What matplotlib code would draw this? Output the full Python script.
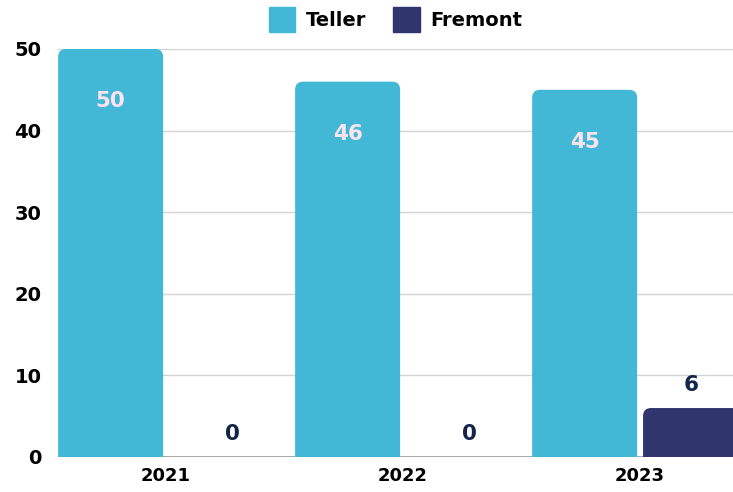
import numpy as np
import matplotlib.pyplot as plt
from matplotlib.path import Path
from matplotlib.patches import PathPatch, Patch

years = ['2021', '2022', '2023']
teller = [50, 46, 45]
fremont = [0, 0, 6]

TELLER_COL = '#42b8d6'
FREMONT_COL = '#31356e'

plt.rcParams['font.family'] = ['DejaVu Sans']


def round_top(ax, bars, r_px=8):
    # swap the plain rectangles for ones with rounded top corners
    fig = ax.figure
    fig.canvas.draw()
    p0 = ax.transData.transform((0, 0))
    p1 = ax.transData.transform((1, 1))
    rx = r_px / (p1[0] - p0[0])
    ry = r_px / (p1[1] - p0[1])
    for b in bars:
        x, y = b.get_x(), b.get_y()
        w, h = b.get_width(), b.get_height()
        b.set_visible(False)
        if h <= 0:
            continue
        r_y = min(ry, h)
        verts = [(x, y), (x + w, y), (x + w, y + h - r_y),
                 (x + w, y + h), (x + w - rx, y + h),
                 (x + rx, y + h),
                 (x, y + h), (x, y + h - r_y),
                 (x, y)]
        codes = [Path.MOVETO, Path.LINETO, Path.LINETO,
                 Path.CURVE3, Path.CURVE3,
                 Path.LINETO,
                 Path.CURVE3, Path.CURVE3,
                 Path.CLOSEPOLY]
        ax.add_patch(PathPatch(Path(verts, codes), facecolor=b.get_facecolor(),
                               edgecolor='none', zorder=3))


fig = plt.figure(figsize=(7.33, 4.92), dpi=100)
ax = fig.add_axes([58 / 733, 1 - 457 / 492, 675 / 733, 408 / 492])

x = np.arange(len(years))
bw = 0.443
off = 0.234
b1 = ax.bar(x - off, teller, bw, color=TELLER_COL, zorder=3)
b2 = ax.bar(x + off, fremont, bw, color=FREMONT_COL, zorder=3)

ax.set_xlim(-0.456, 2.392)
ax.set_ylim(0, 50)

for s in ax.spines.values():
    s.set_visible(False)
ax.axhline(0, color='#9a9a9a', lw=1.2, zorder=2)
ax.set_yticks([0, 10, 20, 30, 40, 50])
ax.yaxis.grid(True, color='#d3d3d3', lw=1, zorder=0)
ax.set_axisbelow(True)
ax.tick_params(axis='both', length=0)
ax.tick_params(axis='y', pad=12, labelsize=14)
ax.tick_params(axis='x', pad=7, labelsize=13)
ax.set_xticks(x)
ax.set_xticklabels(years, fontweight='bold')
for t in ax.get_yticklabels():
    t.set_fontweight('bold')

round_top(ax, list(b1) + list(b2))

for xi, v in zip(x, teller):
    ax.text(xi - off, v - 6.4, str(v), ha='center', va='center',
            color='#fbe4ee', fontsize=15.5, fontweight='bold', zorder=4)
for xi, v in zip(x, fremont):
    dx = 0.045 if v == 0 else -0.02
    ax.text(xi + off + dx, v + 2.8, str(v), ha='center', va='center',
            color='#14254a', fontsize=15.5, fontweight='bold', zorder=4)

# legend above the plot
handles = [Patch(color=TELLER_COL, label='Teller'),
           Patch(color=FREMONT_COL, label='Fremont')]
leg = ax.legend(handles=handles, loc='lower center', bbox_to_anchor=(0.5, 1.0),
                ncol=2, frameon=False, prop={'weight': 'bold', 'size': 14},
                handlelength=1.35, handleheight=1.6, handletextpad=0.55,
                columnspacing=1.4, borderaxespad=0.45)

fig.savefig('out.png', dpi=100)
